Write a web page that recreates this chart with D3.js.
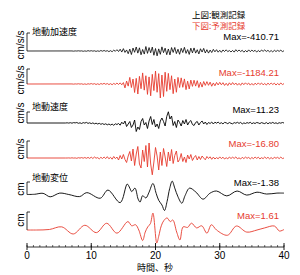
<!DOCTYPE html>
<html lang="ja"><head>
<meta charset="utf-8">
<title>地動記録</title>
<script src="https://cdn.jsdelivr.net/npm/d3@7"></script>
<style>body{margin:0;background:#fff}</style>
</head>
<body>
<script>
// time axis
var timeTicks = [0, 10, 20, 30, 40];

// acceleration (cm/s/s), sampled every 0.25 s from 7 s
var accT0 = 7, accDt = 0.25;
var accObs = [
  5,-14,9,-4, 18,-6,12,-25, 8,-22,30,-10, 26,-12,18,-34,
  14,-28,40,-16, 45,-20,28,-52, 30,-60,75,-25, 110,-45,150,-90,
  200,-120,90,-230, 160,-300,250,-110, 340,-180,270,-320, 130,-260,380,-200,
  290,-150,330,-360, 210,-410.71,180,-280, 350,-140,240,-310, 170,-330,290,-120,
  300,-220,150,-280, 230,-130,310,-200, 120,-290,240,-160, 260,-180,110,-250,
  190,-90,220,-170, 110,-180,80,-130, 140,-70,110,-100, 60,-110,90,-45,
  100,-55,40,-85, 50,-95,110,-40, 85,-45,60,-100, 40,-80,95,-55,
  75,-35,60,-90, 45,-70,85,-30, 90,-40,55,-65, 35,-75,60,-45,
  55,-30,70,-50, 20];
var accPred = [
  4,-12,10,-6, 22,-8,16,-28, 10,-32,22,-12, 38,-18,30,-42,
  20,-45,38,-15, 55,-25,40,-50, 30,-60,48,-35, 80,-40,95,-70,
  120,-330,250,-180, 560,-300,420,-720, 480,-850,650,-400, 940,-520,700,-880,
  600,-1000,820,-560, 1100,-700,880,-1184.21, 760,-1060,1000,-620, 900,-480,700,-820,
  420,-700,560,-300, 520,-280,430,-480, 240,-420,330,-200, 320,-180,280,-300,
  150,-260,210,-120, 200,-110,160,-190, 90,-150,130,-80, 140,-70,110,-120,
  60,-130,100,-75, 120,-60,85,-100, 55,-110,95,-60, 100,-45,80,-95,
  50,-100,70,-55, 95,-50,85,-70, 45,-90,75,-55, 85,-40,70,-90,
  50,-75,90,-45, 30];

// velocity (cm/s), sampled every 0.25 s from 6 s
var velT0 = 6, velDt = 0.25;
var velObs = [
  0,0.2,-0.1,0.3, -0.2,0.4,0.1,0.5, -0.3,0.2,-0.5,0.4, -0.1,0.6,-0.4,0.2,
  -0.6,0.1,-0.8,-0.2, -1.0,-0.3,-1.3,-0.6, -1.5,-0.8,-1.8,-1.0, -2.0,-1.1,-2.3,-0.8,
  -1.5,-0.5,-2.2,0.8, -1.0,2.0,-3.5,-1.0, 1.5,-4.5,-2.0,3.0, -8.5,-4.0,-6.5,1.5,
  4.5,-2.0,0.5,-5.5, 2.0,6.5,-1.5,3.5, -4.0,-1.0,-5.5,2.0, 5.0,1.5,-3.0,6.5,
  11.23,4.0,7.0,-2.5, 1.5,-4.5,3.0,0.5, -3.0,2.5,-1.0,3.5, -2.0,1.0,2.5,-1.5,
  -2.5,0.5,1.5,-2.0, 0.5,2.0,-1.0,1.0, -1.5,0.5,-0.5,1.0, -1.0,0.8,-0.2,0.9,
  -0.6,0.3,-0.9,0.6, 0.2,-0.7,0.5,-0.3, -0.8,0.4,-0.2,0.7, -0.4,0.6,-0.9,0.1,
  -0.5,0.4,-0.2,0.7, -0.7,0.2,-0.5,0.5, 0.1,-0.6,0.4,-0.2, -0.6,0.5,-0.8,0.3,
  -0.3,0.6,-0.4,0.2, -0.6,0.3,-0.2,0.5, 0];
var velPred = [
  0,0,0.1,-0.1, 0.2,-0.1,0.1,-0.3, 0.3,-0.1,0.4,-0.2, 0.5,-0.3,0.6,-0.4,
  0.8,-0.5,1.0,-0.2, 0.4,-0.9,0.7,-0.5, 1.0,-0.6,1.3,-0.8, 0.7,-1.2,1.5,-0.6,
  1.0,-2.0,2.5,-1.0, 3.5,-1.5,-4.5,2.0, 6.5,-3.0,9.0,-7.5, 4.0,11.5,-6.0,-10.0,
  8.0,-3.5,12.5,-9.0, 15.0,-6.0,-16.8,-4.0, 10.5,2.0,-12.0,6.0, -7.5,9.5,1.0,-8.5,
  6.0,-3.0,8.5,-5.5, 2.5,7.0,-4.0,-1.5, 4.5,-3.5,1.0,-4.5, 3.0,-1.0,3.5,-2.5,
  0.5,2.5,-2.0,1.5, -1.5,2.0,0.0,-1.8, 1.5,-0.5,1.2,-1.3, 0.9,-1.0,0.4,-0.8,
  1.1,-0.6,0.8,-1.0, 0.3,-0.9,1.0,-0.5, 0.8,-0.4,1.1,-0.8, 0.2,-1.0,0.7,-0.6,
  0.9,-0.3,0.6,-0.9, 0.5,-0.7,1.0,-0.4, 0.8,-0.9,0.3,-0.6, 1.0,-0.5,0.7,-0.8,
  0.4,-0.9,0.8,-0.3, 0.7,-0.6,0.9,-0.5, 0];

// displacement (cm), [time, value]
var dispObs = [[0,0],[1.2,0.02],[2.5,0.1],[3.6,-0.2],[5.1,0.12],[6.5,0],[8.2,-0.18],[9.3,0.16],
  [11.4,-0.32],[12.6,0.38],[14.5,-0.7],[15.6,0.9],[16.0,0.55],[16.3,0.25],[16.8,0.55],[17.3,-0.4],
  [17.6,-0.65],[18.0,-0.1],[18.5,-0.3],[19.0,0.2],[19.6,0.95],[20.1,0.1],[20.5,-0.5],[21.0,-0.9],
  [21.4,-1.38],[21.8,-0.6],[22.2,0.5],[22.6,1.15],[23.0,0.55],[23.5,-0.2],[24.1,-0.75],[24.6,-0.1],
  [25.3,0.55],[26.3,0.2],[27.4,-0.4],[28.5,0.12],[29.5,0.3],[31.1,-0.12],[32.7,0.3],[34.2,-0.05],
  [35.8,0.2],[37.3,0.04],[38.9,0.12],[40,0.12]];
var dispPred = [[0,0],[1.5,0],[3.5,0.05],[5.4,0.3],[7.2,-0.38],[9.0,0.45],[10.8,-0.25],[12.4,0.64],
  [14.0,-0.3],[15.7,0.8],[16.3,0.4],[16.9,0.5],[17.4,0.0],[18.0,-1.0],[18.4,-0.2],[18.8,0.3],
  [19.2,0.6],[19.6,1.61],[20.2,-1.24],[20.5,-0.6],[20.9,0.4],[21.3,0.9],[21.8,1.15],[22.3,0.8],
  [22.7,0.95],[23.3,-0.2],[23.8,-0.95],[24.3,0.3],[25.0,0.25],[25.6,0.65],[26.4,0.2],[27.2,0.4],
  [28.0,-0.3],[28.7,0.5],[29.5,0.0],[31.2,-0.5],[32.6,0.38],[34.2,-0.2],[35.8,0.0],[37.0,0.2],
  [38.5,0.38],[39.3,-0.1],[40,0.05]];

var maxLabels = ["Max=-410.71", "Max=-1184.21", "Max=11.23", "Max=-16.80", "Max=-1.38", "Max=1.61"];
var unitLabels = ["cm/s/s", "cm/s/s", "cm/s", "cm/s", "cm", "cm"];
var groupTitles = ["地動加速度", "地動速度", "地動変位"];
var legendLabels = ["上図:観測記録", "下図:予測記録"];
var xTitle = "時間、秒";

var width = 300, height = 275;
var red = "#e63b2e";
var latin = "'Liberation Sans', Arial, sans-serif";
var cjk = "'Noto Sans CJK JP', sans-serif";

function uniform(t0, dt, vals) {
  var pts = [[0, 0]];
  vals.forEach(function(v, i) { pts.push([t0 + i * dt, v]); });
  return pts;
}

var svg = d3.select("body").append("svg")
  .attr("width", width)
  .attr("height", height);

var x = d3.scaleLinear().domain([0, 40]).range([27, 284]);

// baseline, half range in px, unit scale, bracket top
var panels = [
  {data: uniform(accT0, accDt, accObs), base: 51, amp: 1000, px: 11.8, top: 33, color: "#000", sw: 0.8},
  {data: uniform(accT0, accDt, accPred), base: 84, amp: 1000, px: 11.8, top: 69, color: red, sw: 0.9},
  {data: uniform(velT0, velDt, velObs), base: 123, amp: 10, px: 10, top: 112, color: "#000", sw: 0.9},
  {data: uniform(velT0, velDt, velPred), base: 158, amp: 10, px: 10, top: 141, color: red, sw: 0.9},
  {data: dispObs, base: 194.5, amp: 1, px: 11.6, top: 182, color: "#000", sw: 0.9},
  {data: dispPred, base: 230, amp: 1, px: 10.5, top: 212, color: red, sw: 0.9}
];
var maxY = [36, 72, 109, 143, 182, 215];
var unitY = [45, 80, 113, 149, 189, 220];

panels.forEach(function(p, i) {
  var y = d3.scaleLinear().domain([-p.amp, p.amp]).range([p.base + p.px, p.base - p.px]);
  var line = d3.line()
    .x(function(d) { return x(d[0]); })
    .y(function(d) { return y(d[1]); });
  if (i >= 4) line.curve(d3.curveCatmullRom);

  svg.append("path")
    .attr("d", line(p.data))
    .attr("fill", "none")
    .attr("stroke", p.color)
    .attr("stroke-width", p.sw)
    .attr("stroke-linejoin", "round");

  // scale bracket
  svg.append("path")
    .attr("d", "M" + (x(0) + 3) + "," + p.top + "H" + x(0) + "V" + p.base)
    .attr("fill", "none")
    .attr("stroke", "#000")
    .attr("stroke-width", 0.8);

  svg.append("text")
    .attr("transform", "translate(23.5," + unitY[i] + ") rotate(-90)")
    .attr("text-anchor", "middle")
    .style("font-family", latin)
    .style("font-size", "10px")
    .text(unitLabels[i]);

  svg.append("text")
    .attr("x", 279)
    .attr("y", maxY[i] + 3.5)
    .attr("text-anchor", "end")
    .attr("fill", p.color === "#000" ? "#000" : red)
    .style("font-family", latin)
    .style("font-size", "9.5px")
    .text(maxLabels[i]);
});

var titleY = [31, 106, 177];
groupTitles.forEach(function(t, i) {
  svg.append("text")
    .attr("x", 32)
    .attr("y", titleY[i] + 3.5)
    .style("font-family", cjk)
    .style("font-size", "9px")
    .text(t);
});

legendLabels.forEach(function(t, i) {
  svg.append("text")
    .attr("x", 192)
    .attr("y", 14 + i * 11 + 3.5)
    .attr("fill", i === 0 ? "#000" : red)
    .style("font-family", cjk)
    .style("font-size", "8.5px")
    .text(t);
});

// time axis
var axisY = 247;
var axis = svg.append("g").attr("transform", "translate(0," + axisY + ")");
axis.append("line").attr("x1", x(0)).attr("x2", x(40)).attr("stroke", "#000").attr("stroke-width", 0.8);
axis.selectAll(".minor").data(d3.range(0, 41, 1)).enter().append("line")
  .attr("x1", function(d) { return x(d); }).attr("x2", function(d) { return x(d); })
  .attr("y1", -2).attr("y2", 0)
  .attr("stroke", "#000").attr("stroke-width", 0.6);
axis.selectAll(".major").data(timeTicks).enter().append("line")
  .attr("x1", function(d) { return x(d); }).attr("x2", function(d) { return x(d); })
  .attr("y1", -4).attr("y2", 3)
  .attr("stroke", "#000").attr("stroke-width", 0.9);
axis.selectAll(".lbl").data(timeTicks).enter().append("text")
  .attr("x", function(d) { return x(d); })
  .attr("y", 12)
  .attr("text-anchor", "middle")
  .style("font-family", latin)
  .style("font-size", "10px")
  .text(function(d) { return d; });

svg.append("text")
  .attr("x", 155)
  .attr("y", 271)
  .attr("text-anchor", "middle")
  .style("font-family", cjk)
  .style("font-size", "9px")
  .text(xTitle);
</script>
</body>
</html>
